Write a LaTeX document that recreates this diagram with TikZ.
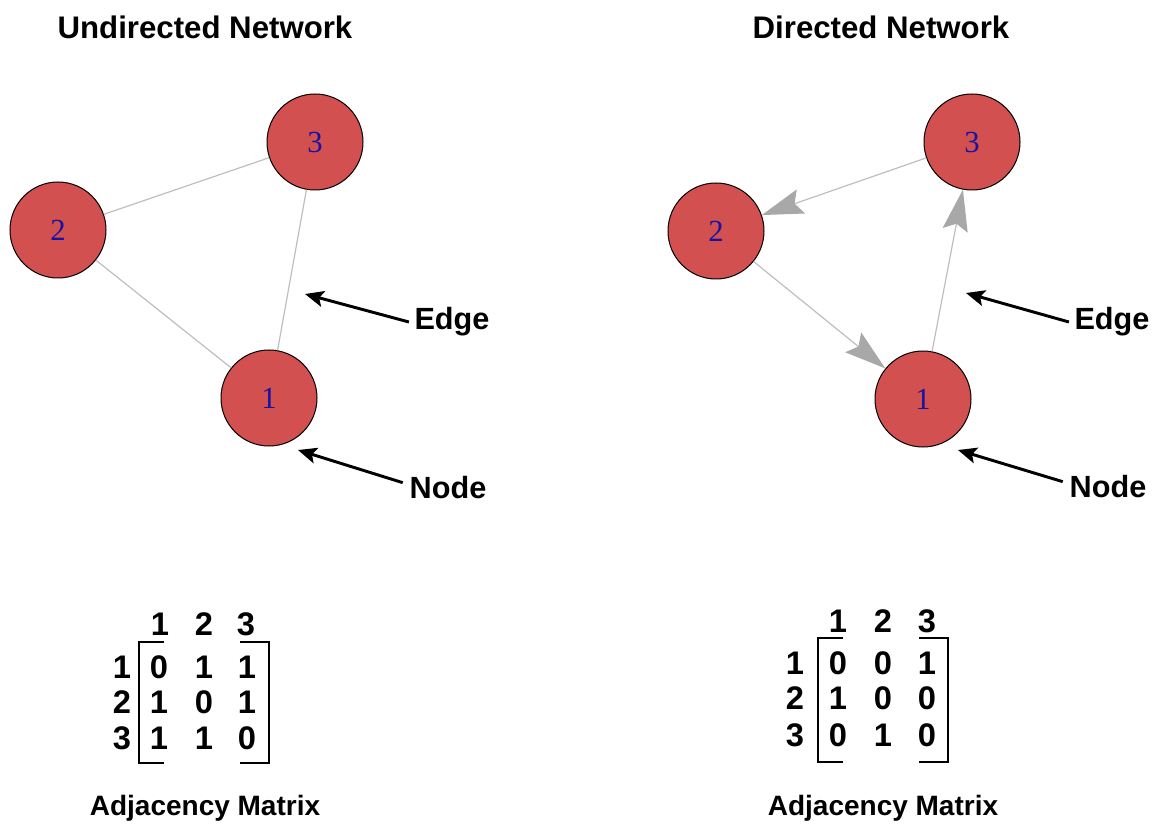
\documentclass[tikz,border=0pt]{standalone}
\usepackage{fontspec}
\setmainfont{Liberation Sans}
\newfontfamily\serifnum{Liberation Serif}
\usetikzlibrary{arrows.meta}
\definecolor{nodered}{RGB}{210,80,80}
\definecolor{numblue}{RGB}{20,20,160}
\definecolor{edgegray}{RGB}{190,190,190}
\definecolor{tipgray}{RGB}{168,168,168}
\begin{document}
\begin{tikzpicture}[x=0.75pt,y=-0.75pt,
 vertex/.style={circle, draw=black, line width=0.75pt, fill=nodered, minimum size=72pt, inner sep=0pt, font=\serifnum\fontsize{23}{27}\selectfont, text=numblue},
 edge/.style={draw=edgegray, line width=0.9pt},
 dedge/.style={edge, -{Stealth[length=31pt,width=19pt,inset=5pt,color=tipgray,fill=tipgray]}},
 pointer/.style={line width=2.2pt, -{Stealth[length=14pt,width=12pt,inset=3pt]}},
 title/.style={font=\bfseries\fontsize{23.4}{28}\selectfont},
 callout/.style={font=\bfseries\fontsize{23}{28}\selectfont, inner sep=2pt},
 mat/.style={font=\bfseries\fontsize{24.5}{28}\selectfont, inner sep=0pt},
 bracket/.style={line width=1pt}]
\useasboundingbox (0,0) rectangle (1153,827);

% ---------- Undirected ----------
\node[title] (tL) at (205,27) {Undirected Network};
\node[vertex] (L3) at (315,142) {3};
\node[vertex] (L2) at (58,230) {2};
\node[vertex] (L1) at (269,398) {1};
\draw[edge] (L2) -- (L3);
\draw[edge] (L2) -- (L1);
\draw[edge] (L3) -- (L1);

\node[callout] (eL) at (452,322) {Edge};
\coordinate (eLtip) at (305,294);
\draw[pointer] ([xshift=-2pt]eL.west) -- (eLtip);
\node[callout] (nL) at (448,488) {Node};
\coordinate (nLtip) at (298,450);
\draw[pointer] ([xshift=-3pt,yshift=4pt]nL.west) -- (nLtip);

% matrix left
\foreach \j/\x in {1/160,2/204,3/246}{\node[mat] (hL\j) at (\x,624) {\j};}
\foreach \i/\y in {1/667,2/702,3/738}{\node[mat] (rL\i) at (122,\y) {\i};}
\foreach \i/\y/\a/\b/\c in {1/667/0/1/1,2/702/1/0/1,3/738/1/1/0}{
  \node[mat] (mL\i a) at (159,\y) {\a};
  \node[mat] (mL\i b) at (204,\y) {\b};
  \node[mat] (mL\i c) at (247,\y) {\c};
}
\draw[bracket] (164,642) -- (139,642) -- (139,763) -- (164,763);
\draw[bracket] (240,642) -- (269,642) -- (269,763) -- (240,763);
\node[title, font=\bfseries\fontsize{21}{25}\selectfont] (aL) at (205,808) {Adjacency Matrix};

% ---------- Directed ----------
\node[title] (tR) at (881,27) {Directed Network};
\node[vertex] (R3) at (972,142) {3};
\node[vertex] (R2) at (716,231) {2};
\node[vertex] (R1) at (923,399) {1};
\draw[dedge] (R3) -- (R2);
\draw[dedge] (R2) -- (R1);
\draw[dedge] (R1) -- (R3);

\node[callout] (eR) at (1112,322) {Edge};
\coordinate (eRtip) at (966,293);
\draw[pointer] ([xshift=-2pt]eR.west) -- (eRtip);
\node[callout] (nR) at (1108,487) {Node};
\coordinate (nRtip) at (958,450);
\draw[pointer] ([xshift=-3pt,yshift=4pt]nR.west) -- (nRtip);

% matrix right
\foreach \j/\x in {1/838,2/883,3/927}{\node[mat] (hR\j) at (\x,621) {\j};}
\foreach \i/\y in {1/663,2/698,3/735}{\node[mat] (rR\i) at (795,\y) {\i};}
\foreach \i/\y/\a/\b/\c in {1/663/0/0/1,2/698/1/0/0,3/735/0/1/0}{
  \node[mat] (mR\i a) at (838,\y) {\a};
  \node[mat] (mR\i b) at (883,\y) {\b};
  \node[mat] (mR\i c) at (927,\y) {\c};
}
\draw[bracket] (843,638) -- (818,638) -- (818,762) -- (843,762);
\draw[bracket] (919,638) -- (948,638) -- (948,762) -- (919,762);
\node[title, font=\bfseries\fontsize{21}{25}\selectfont] (aR) at (883,808) {Adjacency Matrix};
\end{tikzpicture}
\end{document}
